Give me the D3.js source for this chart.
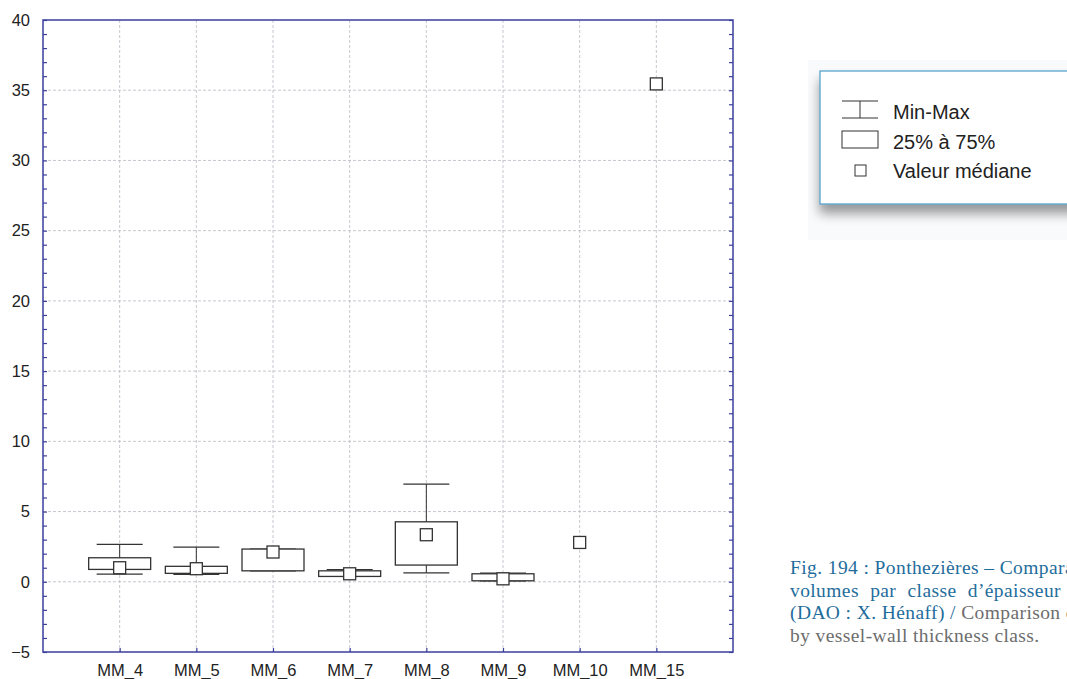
<!DOCTYPE html>
<html><head><meta charset="utf-8">
<script src="https://cdn.jsdelivr.net/npm/d3@7"></script>
<style>body{margin:0;background:#fff;overflow:hidden}</style>
</head><body>
<svg id="chart" width="1067" height="679"></svg>
<script>
const categories = ["MM_4","MM_5","MM_6","MM_7","MM_8","MM_9","MM_10","MM_15"];
const minVals    = [0.55, 0.53, 0.78, 0.38, 0.64, 0.07, null, null];
const q1Vals     = [0.88, 0.60, 0.78, 0.38, 1.19, 0.07, null, null];
const medianVals = [1.00, 0.93, 2.12, 0.57, 3.35, 0.21, 2.80, 35.45];
const q3Vals     = [1.71, 1.10, 2.33, 0.78, 4.27, 0.57, null, null];
const maxVals    = [2.66, 2.47, 2.33, 0.86, 6.96, 0.62, null, null];
const yTicks = [-5,0,5,10,15,20,25,30,35,40];
const legendItems = ["Min-Max","25% à 75%","Valeur médiane"];
const captionBlue = ["Fig. 194 : Ponthezières – Comparaison des", "volumes par classe d’épaisseur des parois", "(DAO : X. Hénaff) / "];
const captionGray = ["Comparison of volumes", "by vessel-wall thickness class."];

const svg = d3.select("#chart");
const L=43, R=733, T=20, B=652;
const axisColor="#3b3f9c";
const x = d3.scalePoint().domain(categories).range([L,R]).padding(1);
const y = d3.scaleLinear().domain([-5,40]).range([B,T]);
const sans = "Liberation Sans, Arial, sans-serif";

// grid
svg.append("g").selectAll("line").data(yTicks.filter(v=>v>-5&&v<40)).join("line")
  .attr("x1",L).attr("x2",R).attr("y1",d=>y(d)).attr("y2",d=>y(d))
  .attr("stroke","#b9b9c4").attr("stroke-width",0.8).attr("stroke-dasharray","3,2");
svg.append("g").selectAll("line").data(categories).join("line")
  .attr("x1",d=>x(d)).attr("x2",d=>x(d)).attr("y1",T).attr("y2",B)
  .attr("stroke","#b9b9c4").attr("stroke-width",0.8).attr("stroke-dasharray","3,2");

// axes frame
svg.append("rect").attr("x",L).attr("y",T).attr("width",R-L).attr("height",B-T)
  .attr("fill","none").attr("stroke",axisColor).attr("stroke-width",1.5);

const minor = d3.range(-5,41,1);
const yl = svg.append("g").attr("transform",`translate(${L},0)`)
  .call(d3.axisRight(y).tickValues(minor).tickSize(4).tickFormat(""));
const yr = svg.append("g").attr("transform",`translate(${R},0)`)
  .call(d3.axisLeft(y).tickValues(minor).tickSize(4).tickFormat(""));
[yl,yr].forEach(g=>{g.select(".domain").remove(); g.selectAll("line").attr("stroke",axisColor).attr("stroke-width",1.2);});

const ylab = svg.append("g").attr("transform",`translate(${L},0)`)
  .call(d3.axisLeft(y).tickValues(yTicks).tickSize(0).tickPadding(13));
ylab.select(".domain").remove();
ylab.selectAll("text").attr("font-family",sans).attr("font-size",16.5).attr("fill","#222");

const xt = svg.append("g").attr("transform",`translate(0,${B})`)
  .call(d3.axisTop(x).tickSize(4).tickFormat(""));
xt.select(".domain").remove(); xt.selectAll("line").attr("stroke",axisColor).attr("stroke-width",1.2);
const xlab = svg.append("g").attr("transform",`translate(0,${B})`)
  .call(d3.axisBottom(x).tickSize(0).tickPadding(12));
xlab.select(".domain").remove();
xlab.selectAll("text").attr("font-family",sans).attr("font-size",16.5).attr("fill","#222");

// boxes
const data = categories.map((c,i)=>({c,min:minVals[i],q1:q1Vals[i],med:medianVals[i],q3:q3Vals[i],max:maxVals[i]}));
const boxW=62, capW=46, medS=12, ink="#333";
const g = svg.append("g");
data.filter(d=>d.q1!=null).forEach(d=>{
  const cx=x(d.c);
  g.append("line").attr("x1",cx).attr("x2",cx).attr("y1",y(d.max)).attr("y2",y(d.q3)).attr("stroke",ink);
  g.append("line").attr("x1",cx).attr("x2",cx).attr("y1",y(d.q1)).attr("y2",y(d.min)).attr("stroke",ink);
  g.append("line").attr("x1",cx-capW/2).attr("x2",cx+capW/2).attr("y1",y(d.max)).attr("y2",y(d.max)).attr("stroke",ink).attr("stroke-width",1.3);
  g.append("line").attr("x1",cx-capW/2).attr("x2",cx+capW/2).attr("y1",y(d.min)).attr("y2",y(d.min)).attr("stroke",ink).attr("stroke-width",1.3);
  g.append("rect").attr("x",cx-boxW/2).attr("y",y(d.q3)).attr("width",boxW).attr("height",Math.max(1,y(d.q1)-y(d.q3)))
    .attr("fill","#fff").attr("stroke",ink).attr("stroke-width",1.3);
});
g.selectAll("rect.med").data(data).join("rect")
  .attr("x",d=>x(d.c)-medS/2).attr("y",d=>y(d.med)-medS/2).attr("width",medS).attr("height",medS)
  .attr("fill","#fff").attr("stroke",ink).attr("stroke-width",1.3);

// legend
const defs = svg.append("defs");
const f = defs.append("filter").attr("id","sh").attr("x","-20%").attr("y","-20%").attr("width","140%").attr("height","160%");
f.append("feGaussianBlur").attr("in","SourceAlpha").attr("stdDeviation",6);
f.append("feOffset").attr("dx",0).attr("dy",9).attr("result","b");
f.append("feComponentTransfer").append("feFuncA").attr("type","linear").attr("slope",0.4);
const fm=f.append("feMerge"); fm.append("feMergeNode"); fm.append("feMergeNode").attr("in","SourceGraphic");
svg.append("rect").attr("x",808).attr("y",60).attr("width",270).attr("height",180).attr("fill","#f9fafc");
svg.append("rect").attr("x",820).attr("y",71).attr("width",260).attr("height",133)
  .attr("fill","#fff").attr("stroke","#4c9cc7").attr("stroke-width",1.2).attr("filter","url(#sh)");
const lg = svg.append("g").attr("font-family",sans).attr("font-size",20).attr("fill","#222");
lg.append("line").attr("x1",842).attr("x2",878).attr("y1",101).attr("y2",101).attr("stroke",ink);
lg.append("line").attr("x1",842).attr("x2",878).attr("y1",118).attr("y2",118).attr("stroke",ink);
lg.append("line").attr("x1",860).attr("x2",860).attr("y1",101).attr("y2",118).attr("stroke",ink);
lg.append("rect").attr("x",842).attr("y",131).attr("width",36).attr("height",17).attr("fill","#fff").attr("stroke",ink);
lg.append("rect").attr("x",855).attr("y",165).attr("width",11).attr("height",11).attr("fill","#fff").attr("stroke",ink);
lg.selectAll("text").data(legendItems).join("text")
  .attr("x",893).attr("y",(d,i)=>119+i*29.5).text(d=>d);

// caption
const cap = svg.append("g").attr("font-family","Liberation Serif, DejaVu Serif, serif").attr("font-size",19.5).attr("letter-spacing",0.4);
const capLines = [
  [{t:captionBlue[0],c:"#1f6d9c"}],
  [{t:captionBlue[1],c:"#1f6d9c"}],
  [{t:captionBlue[2],c:"#1f6d9c"},{t:captionGray[0],c:"#6d6d6d"}],
  [{t:captionGray[1],c:"#6d6d6d"}]
];
capLines.forEach((parts,i)=>{
  const tx = cap.append("text").attr("x",790).attr("y",574+i*22.5).attr("word-spacing", i===1?6:0);
  parts.forEach(p=>tx.append("tspan").attr("fill",p.c).text(p.t));
});
</script>
</body></html>
